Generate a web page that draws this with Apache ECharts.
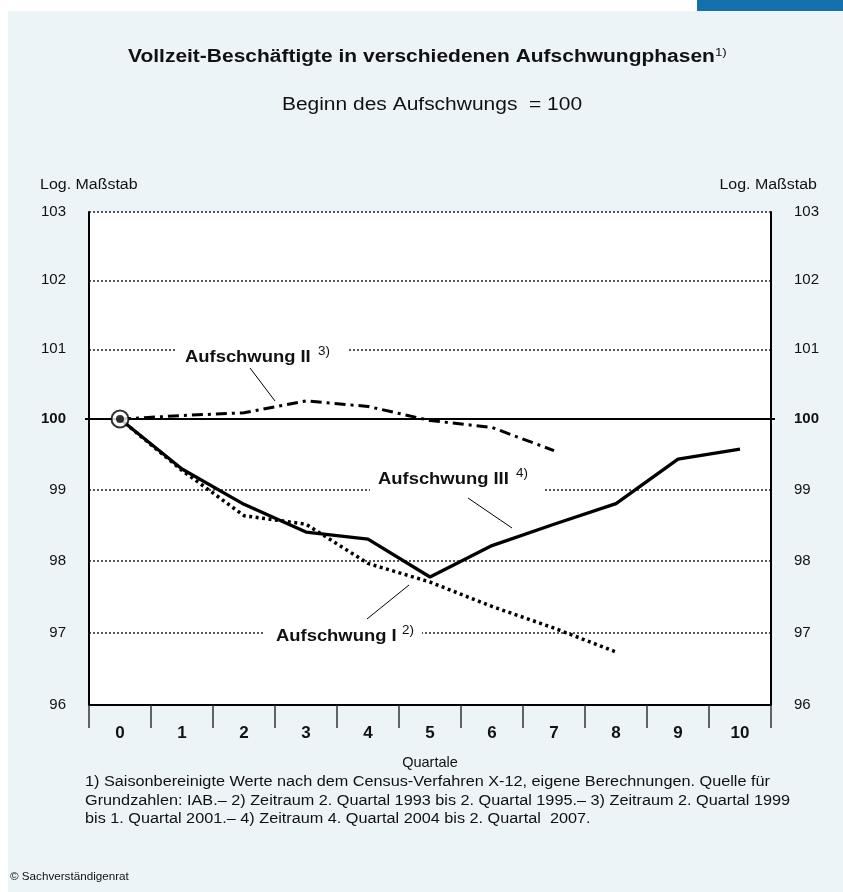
<!DOCTYPE html>
<html><head><meta charset="utf-8">
<script src="https://cdn.jsdelivr.net/npm/echarts@6/dist/echarts.min.js"></script>
<style>html,body{margin:0;padding:0;background:#fff}#c{width:843px;height:892px}</style>
</head><body><div id="c"></div>
<script>
// ---- data ----
const quarters = ['0','1','2','3','4','5','6','7','8','9','10'];
const yTicks = [96, 97, 98, 99, 100, 101, 102, 103];
const aufschwungI   = [100, 99.27, 98.63, 98.51, 97.96, 97.70, 97.36, 97.06, 96.73];
const aufschwungII  = [100, 100.05, 100.09, 100.26, 100.18, 99.98, 99.88, 99.55];
const aufschwungIII = [100, 99.29, 98.79, 98.40, 98.30, 97.77, 98.21, 98.51, 98.80, 99.43, 99.57];
const startPoint = [['0', 100]];
const baseLevel = 100;

const FONT = "'Liberation Sans', Arial, Helvetica, sans-serif";
const chart = echarts.init(document.getElementById('c'), null, {renderer: 'canvas'});

const yLabelFmt = v => { const r = Math.round(v); return r === baseLevel ? '{b|' + r + '}' : String(r); };

const option = {
  backgroundColor: '#ECF4F8',
  animation: false,
  textStyle: {fontFamily: FONT},
  grid: {left: 89, right: 72, top: 212, bottom: 187, show: true, backgroundColor: '#ffffff', borderWidth: 0, containLabel: false},
  xAxis: {
    type: 'category', data: quarters, boundaryGap: true,
    axisLine: {lineStyle: {color: '#000', width: 2}},
    axisTick: {show: true, length: 23, lineStyle: {color: '#333', width: 1.5}},
    axisLabel: {margin: 20, fontSize: 17, fontWeight: 'bold', color: '#111', fontFamily: FONT},
    splitLine: {show: false},
    name: 'Quartale', nameLocation: 'middle', nameGap: 50,
    nameTextStyle: {fontSize: 14.5, color: '#111', fontFamily: FONT}
  },
  yAxis: [
    {
      type: 'log', logBase: 10, min: 96, max: 103, position: 'left',
      axisLine: {show: true, lineStyle: {color: '#000', width: 2}},
      axisTick: {show: false, customValues: yTicks},
      axisLabel: {customValues: yTicks, margin: 23, fontSize: 15, color: '#111', fontFamily: FONT,
        formatter: yLabelFmt, rich: {b: {fontWeight: 'bold', fontSize: 15, color: '#111', fontFamily: FONT}}},
      splitLine: {show: true, lineStyle: {color: '#222', type: [2, 2], width: 1.5}}
    },
    {
      type: 'log', logBase: 10, min: 96, max: 103, position: 'right',
      axisLine: {show: true, lineStyle: {color: '#000', width: 2}},
      axisTick: {show: true, customValues: [baseLevel], length: 4, lineStyle: {color: '#000', width: 2}},
      axisLabel: {customValues: yTicks, margin: 23, fontSize: 15, color: '#111', fontFamily: FONT,
        formatter: yLabelFmt, rich: {b: {fontWeight: 'bold', fontSize: 15, color: '#111', fontFamily: FONT}}},
      splitLine: {show: false}
    },
    {
      type: 'log', logBase: 10, min: 96, max: 103, position: 'left', offset: 0,
      axisLine: {show: false},
      axisTick: {show: true, customValues: [baseLevel], length: 4, lineStyle: {color: '#000', width: 2}},
      axisLabel: {show: false},
      splitLine: {show: false}
    }
  ],
  series: [
    {
      name: 'Aufschwung I', type: 'line', data: aufschwungI, symbol: 'none', z: 3,
      lineStyle: {color: '#000', width: 3.5, type: [3, 3.5], cap: 'butt'}
    },
    {
      name: 'Aufschwung II', type: 'line', data: aufschwungII, symbol: 'none', z: 3,
      lineStyle: {color: '#000', width: 3, type: [11, 5, 3, 5], cap: 'butt'}
    },
    {
      name: 'Aufschwung III', type: 'line', data: aufschwungIII, symbol: 'none', z: 4,
      lineStyle: {color: '#000', width: 3.3, type: 'solid'},
      markLine: {silent: true, symbol: 'none', label: {show: false},
        lineStyle: {color: '#000', width: 2, type: 'solid'}, data: [{yAxis: baseLevel}]}
    },
    {
      name: 'Start', type: 'scatter', data: startPoint, symbol: 'circle', symbolSize: 17, z: 6,
      itemStyle: {color: '#fff', borderColor: '#000', borderWidth: 2}
    },
    {
      name: 'StartDot', type: 'scatter', data: startPoint, symbol: 'circle', symbolSize: 8, z: 7,
      itemStyle: {color: '#000'}
    }
  ],
  graphic: {elements: [
    {type: 'rect', shape: {x: 0, y: 0, width: 843, height: 11}, style: {fill: '#fff'}, z: -1, silent: true},
    {type: 'rect', shape: {x: 0, y: 0, width: 8, height: 892}, style: {fill: '#fff'}, z: -1, silent: true},
    {type: 'rect', shape: {x: 697, y: 0, width: 146, height: 11}, style: {fill: '#1570AE'}, z: 1, silent: true},
    {type: 'text', x: 128, y: 57, scaleX: 1.165, silent: true, style: {
      text: '{t|Vollzeit-Beschäftigte in verschiedenen Aufschwungphasen}{s|1)}',
      align: 'left', verticalAlign: 'middle',
      rich: {t: {fontSize: 18, fontWeight: 'bold', fill: '#111', fontFamily: FONT, lineHeight: 21},
             s: {fontSize: 11.5, fill: '#111', fontFamily: FONT, verticalAlign: 'top', lineHeight: 11}}
    }},
    {type: 'text', x: 432, y: 105, scaleX: 1.165, silent: true, style: {
      text: 'Beginn des Aufschwungs  = 100', align: 'center', verticalAlign: 'middle',
      fontSize: 18, fill: '#111', fontFamily: FONT}},
    {type: 'text', x: 40, y: 185, scaleX: 1.14, silent: true, style: {text: 'Log. Maßstab', align: 'left', verticalAlign: 'middle', fontSize: 14, fill: '#111', fontFamily: FONT}},
    {type: 'text', x: 817, y: 185, scaleX: 1.14, silent: true, style: {text: 'Log. Maßstab', align: 'right', verticalAlign: 'middle', fontSize: 14, fill: '#111', fontFamily: FONT}},
    // gaps in gridlines behind labels
    {type: 'rect', shape: {x: 177, y: 346, width: 171, height: 8}, style: {fill: '#fff'}, z: 1, silent: true},
    {type: 'rect', shape: {x: 370, y: 486, width: 175, height: 8}, style: {fill: '#fff'}, z: 1, silent: true},
    {type: 'rect', shape: {x: 265, y: 629, width: 157, height: 8}, style: {fill: '#fff'}, z: 1, silent: true},
    // annotations
    {type: 'text', x: 185, y: 358, scaleX: 1.15, z: 2, silent: true, style: {text: 'Aufschwung II', fontSize: 16, fontWeight: 'bold', fill: '#111', fontFamily: FONT, verticalAlign: 'middle'}},
    {type: 'text', x: 318, y: 352, scaleX: 1.12, z: 2, silent: true, style: {text: '3)', fontSize: 12, fill: '#111', fontFamily: FONT, verticalAlign: 'middle'}},
    {type: 'line', z: 2, silent: true, shape: {x1: 250, y1: 368, x2: 275, y2: 401}, style: {stroke: '#000', lineWidth: 1}},
    {type: 'text', x: 378, y: 480, scaleX: 1.15, z: 2, silent: true, style: {text: 'Aufschwung III', fontSize: 16, fontWeight: 'bold', fill: '#111', fontFamily: FONT, verticalAlign: 'middle'}},
    {type: 'text', x: 516, y: 474, scaleX: 1.12, z: 2, silent: true, style: {text: '4)', fontSize: 12, fill: '#111', fontFamily: FONT, verticalAlign: 'middle'}},
    {type: 'line', z: 2, silent: true, shape: {x1: 468, y1: 498, x2: 512, y2: 528}, style: {stroke: '#000', lineWidth: 1}},
    {type: 'text', x: 276, y: 637, scaleX: 1.15, z: 2, silent: true, style: {text: 'Aufschwung I', fontSize: 16, fontWeight: 'bold', fill: '#111', fontFamily: FONT, verticalAlign: 'middle'}},
    {type: 'text', x: 402, y: 631, scaleX: 1.12, z: 2, silent: true, style: {text: '2)', fontSize: 12, fill: '#111', fontFamily: FONT, verticalAlign: 'middle'}},
    {type: 'line', z: 2, silent: true, shape: {x1: 367, y1: 619, x2: 409, y2: 585}, style: {stroke: '#000', lineWidth: 1}},
    // footnotes
    {type: 'text', x: 85, y: 773, scaleX: 1.16, silent: true, style: {
      text: '1) Saisonbereinigte Werte nach dem Census-Verfahren X-12, eigene Berechnungen. Quelle für\nGrundzahlen: IAB.– 2) Zeitraum 2. Quartal 1993 bis 2. Quartal 1995.– 3) Zeitraum 2. Quartal 1999\nbis 1. Quartal 2001.– 4) Zeitraum 4. Quartal 2004 bis 2. Quartal  2007.',
      fontSize: 14, lineHeight: 18.5, fill: '#111', fontFamily: FONT, verticalAlign: 'top'}},
    {type: 'text', x: 10, y: 877, scaleX: 1.06, silent: true, style: {text: '© Sachverständigenrat', fontSize: 11, fill: '#111', fontFamily: FONT, verticalAlign: 'middle'}}
  ]}
};
chart.setOption(option);
</script></body></html>
